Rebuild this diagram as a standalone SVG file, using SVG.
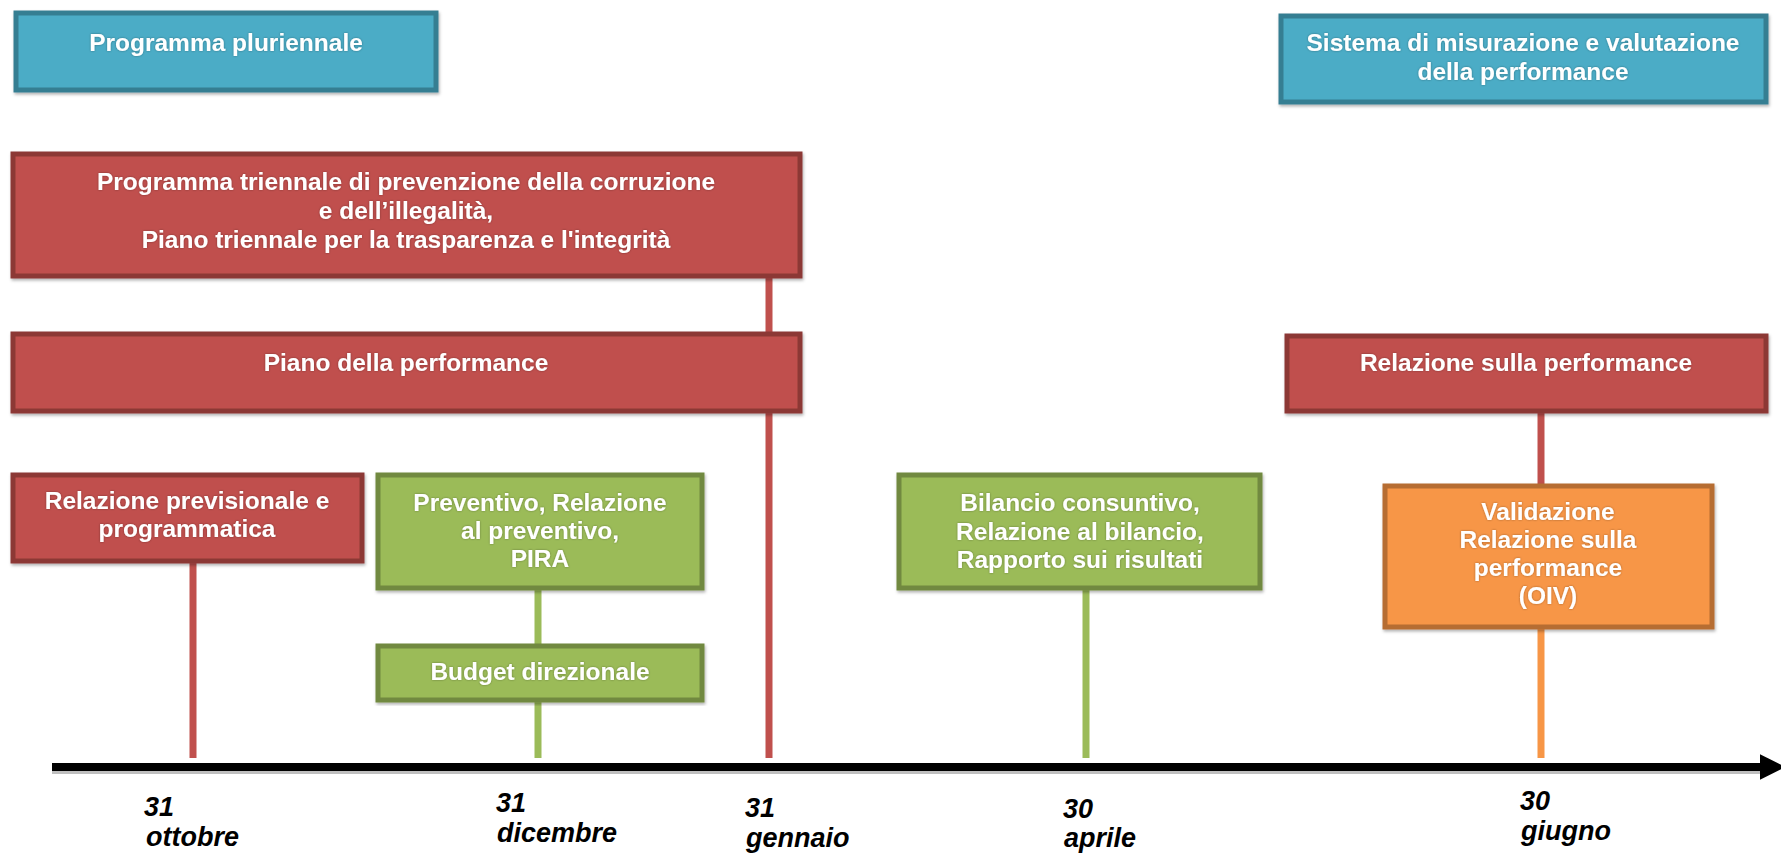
<svg xmlns="http://www.w3.org/2000/svg" width="1781" height="854" viewBox="0 0 1781 854">
<defs>
<filter id="sh" x="-5%" y="-5%" width="110%" height="115%">
<feDropShadow dx="1" dy="2" stdDeviation="1.5" flood-color="#000" flood-opacity="0.3"/>
</filter>
<filter id="ts" x="-5%" y="-20%" width="110%" height="140%">
<feDropShadow dx="0" dy="0" stdDeviation="0.8" flood-color="#000" flood-opacity="0.35"/>
</filter>
<marker id="arr" viewBox="0 0 10 10" refX="0" refY="5" markerWidth="3.2" markerHeight="3.6" markerUnits="strokeWidth" orient="auto">
<path d="M0,0 L10,5 L0,10 z" fill="#000"/>
</marker>
</defs>
<style>
.teal{fill:#4BACC6;stroke:#367E92;stroke-width:5}
.red{fill:#C0504D;stroke:#8C3836;stroke-width:5}
.green{fill:#9BBB59;stroke:#71893F;stroke-width:5}
.orange{fill:#F79646;stroke:#B66D31;stroke-width:5}
.lbl{font-family:"Liberation Sans",Arial,sans-serif;font-weight:bold;font-size:24.5px;fill:#fff;text-anchor:middle}
.date{font-family:"Liberation Sans",Arial,sans-serif;font-weight:bold;font-style:italic;font-size:27px;fill:#000}
.lr{stroke:#C0504D;stroke-width:7;fill:none}
.lg{stroke:#9BBB59;stroke-width:7;fill:none}
.lo{stroke:#F79646;stroke-width:7;fill:none}
</style>
<rect width="1781" height="854" fill="#fff"/>
<g id="connectors">
<line class="lr" x1="769" y1="277" x2="769" y2="758"/>
<line class="lr" x1="193" y1="562" x2="193" y2="758"/>
<line class="lg" x1="538" y1="589" x2="538" y2="758"/>
<line class="lg" x1="1086" y1="589" x2="1086" y2="758"/>
<line class="lr" x1="1541" y1="412" x2="1541" y2="485"/>
<line class="lo" x1="1541" y1="628" x2="1541" y2="758"/>
<line x1="52" y1="770" x2="1768" y2="770" stroke="#000" stroke-opacity="0.25" stroke-width="8"/>
<line x1="52" y1="767" x2="1760" y2="767" stroke="#000" stroke-width="8" marker-end="url(#arr)"/>
</g>
<g id="programma-pluriennale">
<rect class="teal" x="16" y="13" width="420" height="77" filter="url(#sh)"/>
<text class="lbl" x="226" y="51" filter="url(#ts)">Programma pluriennale</text>
</g>
<g id="sistema">
<rect class="teal" x="1281" y="16" width="485" height="86" filter="url(#sh)"/>
<text class="lbl" x="1523" y="51" filter="url(#ts)">Sistema di misurazione e valutazione</text>
<text class="lbl" x="1523" y="80" filter="url(#ts)">della performance</text>
</g>
<g id="programma-triennale">
<rect class="red" x="13" y="154" width="787" height="122" filter="url(#sh)"/>
<text class="lbl" x="406" y="190" filter="url(#ts)">Programma triennale di prevenzione della corruzione</text>
<text class="lbl" x="406" y="219" filter="url(#ts)">e dell’illegalità,</text>
<text class="lbl" x="406" y="248" filter="url(#ts)">Piano triennale per la trasparenza  e l'integrità</text>
</g>
<g id="piano-performance">
<rect class="red" x="13" y="334" width="787" height="77" filter="url(#sh)"/>
<text class="lbl" x="406" y="371" filter="url(#ts)">Piano della performance</text>
</g>
<g id="relazione-previsionale">
<rect class="red" x="13" y="475" width="349" height="86" filter="url(#sh)"/>
<text class="lbl" x="187" y="509" filter="url(#ts)">Relazione previsionale e</text>
<text class="lbl" x="187" y="537" filter="url(#ts)">programmatica</text>
</g>
<g id="preventivo">
<rect class="green" x="378" y="475" width="324" height="113" filter="url(#sh)"/>
<text class="lbl" x="540" y="511" filter="url(#ts)">Preventivo, Relazione</text>
<text class="lbl" x="540" y="539" filter="url(#ts)">al preventivo,</text>
<text class="lbl" x="540" y="567" filter="url(#ts)">PIRA</text>
</g>
<g id="budget">
<rect class="green" x="378" y="646" width="324" height="54" filter="url(#sh)"/>
<text class="lbl" x="540" y="680" filter="url(#ts)">Budget direzionale</text>
</g>
<g id="bilancio">
<rect class="green" x="899" y="475" width="361" height="113" filter="url(#sh)"/>
<text class="lbl" x="1080" y="511" filter="url(#ts)">Bilancio consuntivo,</text>
<text class="lbl" x="1080" y="540" filter="url(#ts)">Relazione al bilancio,</text>
<text class="lbl" x="1080" y="568" filter="url(#ts)">Rapporto  sui risultati</text>
</g>
<g id="relazione-performance">
<rect class="red" x="1287" y="336" width="479" height="75" filter="url(#sh)"/>
<text class="lbl" x="1526" y="371" filter="url(#ts)">Relazione sulla performance</text>
</g>
<g id="validazione">
<rect class="orange" x="1385" y="486" width="327" height="141" filter="url(#sh)"/>
<text class="lbl" x="1548" y="520" filter="url(#ts)">Validazione</text>
<text class="lbl" x="1548" y="548" filter="url(#ts)">Relazione sulla</text>
<text class="lbl" x="1548" y="576" filter="url(#ts)">performance</text>
<text class="lbl" x="1548" y="604" filter="url(#ts)">(OIV)</text>
</g>
<g id="dates">
<text class="date" x="144" y="816">31</text>
<text class="date" x="146" y="846">ottobre</text>
<text class="date" x="496" y="812">31</text>
<text class="date" x="497" y="842">dicembre</text>
<text class="date" x="745" y="817">31</text>
<text class="date" x="746" y="847">gennaio</text>
<text class="date" x="1063" y="818">30</text>
<text class="date" x="1064" y="847">aprile</text>
<text class="date" x="1520" y="810">30</text>
<text class="date" x="1521" y="840">giugno</text>
</g>
</svg>
